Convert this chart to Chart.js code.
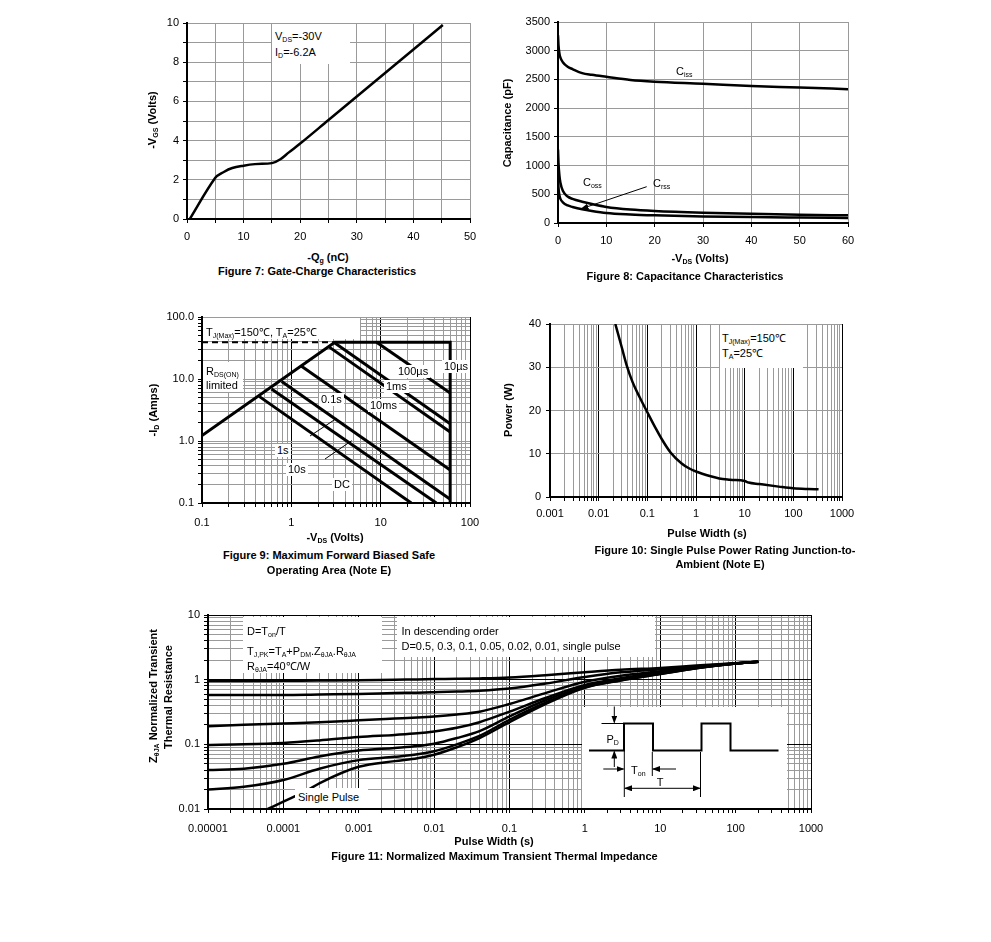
<!DOCTYPE html>
<html><head><meta charset="utf-8">
<script src="https://cdn.jsdelivr.net/npm/chart.js@4.4.0/dist/chart.umd.min.js"></script>
<style>
body{margin:0;background:#fff;width:991px;height:942px;position:relative;overflow:hidden;font-family:'Liberation Sans',Arial,sans-serif;color:#000}
canvas{position:absolute}
.t{position:absolute;font-size:11px;white-space:nowrap;line-height:13px}
.b{font-weight:bold}
.c{transform:translateX(-50%)}
.ry{transform:translate(-50%,-50%) rotate(-90deg)}
.box{position:absolute;background:#fff}
.lb{background:#fff;padding:0 2px}
sub{font-size:7px;vertical-align:-2px;line-height:0}
</style></head>
<body>
<div id="charts"></div>

<!-- Figure 7 texts -->
<div class="box" style="left:272px;top:24px;width:78px;height:40px"></div>
<div class="t" style="left:275px;top:29.5px">V<sub>DS</sub>=-30V</div>
<div class="t" style="left:275px;top:45.5px">I<sub>D</sub>=-6.2A</div>
<div class="t b ry" style="left:151.5px;top:120px">-V<sub>GS</sub> (Volts)</div>
<div class="t b c" style="left:328px;top:251px">-Q<sub>g</sub> (nC)</div>
<div class="t b c" style="left:317px;top:265px">Figure 7: Gate-Charge Characteristics</div>

<!-- Figure 8 texts -->
<div class="t" style="left:676px;top:64.5px">C<sub>iss</sub></div>
<div class="t" style="left:583px;top:176px">C<sub>oss</sub></div>
<div class="t" style="left:653px;top:176.5px">C<sub>rss</sub></div>
<div class="t b ry" style="left:506.5px;top:123px">Capacitance (pF)</div>
<div class="t b c" style="left:700px;top:252px">-V<sub>DS</sub> (Volts)</div>
<div class="t b c" style="left:685px;top:270px">Figure 8: Capacitance Characteristics</div>

<!-- Figure 9 texts -->
<div class="box" style="left:203px;top:318px;width:157px;height:21px"></div>
<div class="t" style="left:206px;top:325.5px">T<sub>J(Max)</sub>=150℃, T<sub>A</sub>=25℃</div>
<div class="box" style="left:203px;top:362px;width:40px;height:30px"></div>
<div class="t" style="left:206px;top:364.5px">R<sub>DS(ON)</sub></div>
<div class="t" style="left:206px;top:378.5px">limited</div>
<div class="t lb" style="left:396px;top:364.5px">100µs</div>
<div class="t lb" style="left:442px;top:360px">10µs</div>
<div class="t lb" style="left:384px;top:380px">1ms</div>
<div class="t lb" style="left:368px;top:399px">10ms</div>
<div class="t lb" style="left:319px;top:393px">0.1s</div>
<div class="t lb" style="left:275px;top:443.5px">1s</div>
<div class="t lb" style="left:286px;top:463px">10s</div>
<div class="t lb" style="left:332px;top:477.5px">DC</div>
<div class="t b ry" style="left:153px;top:410px">-I<sub>D</sub> (Amps)</div>
<div class="t b c" style="left:335px;top:531px">-V<sub>DS</sub> (Volts)</div>
<div class="t b c" style="left:329px;top:549px">Figure 9: Maximum Forward Biased Safe</div>
<div class="t b c" style="left:329px;top:564px">Operating Area (Note E)</div>

<!-- Figure 10 texts -->
<div class="box" style="left:720px;top:325px;width:83px;height:43px"></div>
<div class="t" style="left:722px;top:331.5px">T<sub>J(Max)</sub>=150℃</div>
<div class="t" style="left:722px;top:346.5px">T<sub>A</sub>=25℃</div>
<div class="t b ry" style="left:508px;top:410px">Power (W)</div>
<div class="t b c" style="left:707px;top:527px">Pulse Width (s)</div>
<div class="t b c" style="left:725px;top:543.5px">Figure 10: Single Pulse Power Rating Junction-to-</div>
<div class="t b c" style="left:720px;top:557.5px">Ambient (Note E)</div>

<!-- Figure 11 texts -->
<div class="box" style="left:243px;top:617px;width:139px;height:56px"></div>
<div class="t" style="left:247px;top:624.5px">D=T<sub>on</sub>/T</div>
<div class="t" style="left:247px;top:644.5px">T<sub>J,PK</sub>=T<sub>A</sub>+P<sub>DM</sub>.Z<sub>θJA</sub>.R<sub>θJA</sub></div>
<div class="t" style="left:247px;top:659.5px">R<sub>θJA</sub>=40℃/W</div>
<div class="box" style="left:397px;top:617px;width:258px;height:40px"></div>
<div class="t" style="left:401.5px;top:624.5px">In descending order</div>
<div class="t" style="left:401.5px;top:639.5px">D=0.5, 0.3, 0.1, 0.05, 0.02, 0.01, single pulse</div>
<div class="box" style="left:295px;top:788px;width:73px;height:20px"></div>
<div class="t" style="left:298px;top:791px">Single Pulse</div>
<div class="t b ry" style="left:152.5px;top:696px">Z<sub>θJA</sub> Normalized Transient</div>
<div class="t b ry" style="left:167.5px;top:697px">Thermal Resistance</div>
<div class="t b c" style="left:494px;top:834.5px">Pulse Width (s)</div>
<div class="t b c" style="left:494.5px;top:849.5px">Figure 11: Normalized Maximum Transient Thermal Impedance</div>

<svg width="991" height="942" style="position:absolute;left:0;top:0">
<defs>
<marker id="ah" markerWidth="8" markerHeight="6" refX="7" refY="3" orient="auto" markerUnits="userSpaceOnUse"><path d="M0,0 L8,3 L0,6 Z" fill="#000"/></marker>
</defs>
<!-- fig 8 arrow -->
<line x1="646.7" y1="186.7" x2="581.5" y2="208.7" stroke="#000" stroke-width="1" marker-end="url(#ah)"/>
<!-- fig 9 pointer lines -->
<line x1="310" y1="436" x2="336.7" y2="418.3" stroke="#000" stroke-width="1"/>
<line x1="325" y1="459" x2="351.7" y2="440.7" stroke="#000" stroke-width="1"/>
<!-- fig 11 inset -->
<rect x="582" y="707" width="205" height="101" fill="#fff"/>
<polyline points="589,750.5 624,750.5 624,723.5 653,723.5 653,750.5 701.5,750.5 701.5,723.5 730.5,723.5 730.5,750.5 778.5,750.5" fill="none" stroke="#000" stroke-width="2"/>
<line x1="624.3" y1="750" x2="624.3" y2="797" stroke="#000" stroke-width="1"/>
<line x1="652.3" y1="752" x2="652.3" y2="776" stroke="#000" stroke-width="1"/>
<line x1="700.5" y1="752" x2="700.5" y2="797" stroke="#000" stroke-width="1"/>
<line x1="601.5" y1="723.5" x2="624" y2="723.5" stroke="#000" stroke-width="1"/>
<line x1="614.3" y1="706.5" x2="614.3" y2="722.5" stroke="#000" stroke-width="1" marker-end="url(#ah)"/>
<line x1="614.3" y1="767" x2="614.3" y2="751.5" stroke="#000" stroke-width="1" marker-end="url(#ah)"/>
<line x1="603.3" y1="769" x2="623.5" y2="769" stroke="#000" stroke-width="1" marker-end="url(#ah)"/>
<line x1="676" y1="769" x2="653" y2="769" stroke="#000" stroke-width="1" marker-end="url(#ah)"/>
<line x1="660" y1="788.3" x2="625" y2="788.3" stroke="#000" stroke-width="1" marker-end="url(#ah)"/>
<line x1="660" y1="788.3" x2="699.8" y2="788.3" stroke="#000" stroke-width="1" marker-end="url(#ah)"/>
</svg>
<div class="t c" style="left:612.7px;top:733px">P<sub>D</sub></div>
<div class="t c" style="left:638.3px;top:764px">T<sub>on</sub></div>
<div class="t c" style="left:660px;top:776px">T</div>

<script>
// ---------- DATA ----------
// Figure 7: gate charge
const fig7Qg  = [0.5, 5, 6.5, 8, 10, 12, 15, 16.5, 18, 20, 25, 30, 35, 40, 45.2];
const fig7Vgs = [0, 2.1, 2.4, 2.6, 2.72, 2.8, 2.85, 3.05, 3.4, 3.85, 5.05, 6.25, 7.45, 8.65, 9.9];
const fig7XLabels = ['0','10','20','30','40','50'];
const fig7YLabels = ['0','2','4','6','8','10'];

// Figure 8: capacitance
const fig8Vds  = [0, 0.1, 0.3, 0.5, 1, 2, 3, 5, 7, 10, 15, 20, 30, 40, 50, 60];
const fig8Ciss = [3270, 3100, 2950, 2880, 2800, 2720, 2680, 2610, 2580, 2545, 2490, 2460, 2425, 2385, 2360, 2330];
const fig8Coss = [1280, 1050, 820, 700, 560, 460, 420, 370, 330, 280, 235, 210, 180, 160, 145, 133];
const fig8Crss = [850, 620, 480, 420, 360, 305, 280, 240, 210, 175, 150, 135, 115, 103, 95, 88];
const fig8XLabels = ['0','10','20','30','40','50','60'];
const fig8YLabels = ['0','500','1000','1500','2000','2500','3000','3500'];

// Figure 9: SOA
const fig9LimitV = [0.1, 3.07, 60, 60];
const fig9LimitI = [1.22, 39, 39, 0.1];
const fig9DashV  = [0.1, 3.07];
const fig9DashI  = [39, 39];
const fig9Names  = ['10µs','100µs','1ms','10ms','1s','10s','DC'];
const fig9StartV = [9, 3.07, 2.59, 1.3, 0.78, 0.6, 0.44];
const fig9StartI = [39, 38, 33.6, 16, 9.1, 6.9, 5.2];
const fig9EndV   = [60, 60, 60, 60, 60, 42, 22];
const fig9EndI   = [5.95, 1.9, 1.4, 0.34, 0.115, 0.1, 0.1];
const fig9XLabels = ['0.1','1','10','100'];
const fig9YLabels = ['0.1','1.0','10.0','100.0'];

// Figure 10: single pulse power
const fig10T = [0.022, 0.03, 0.0375, 0.05, 0.07, 0.1, 0.15, 0.2, 0.3, 0.5, 0.7, 1, 2, 3, 5, 10, 12, 20, 50, 100, 200, 330];
const fig10P = [40, 34.5, 30.5, 26.5, 23, 19.6, 15.8, 13.3, 10.3, 7.8, 6.7, 5.9, 4.8, 4.3, 4.0, 3.7, 3.35, 3.0, 2.4, 2.0, 1.85, 1.8];
const fig10XLabels = ['0.001','0.01','0.1','1','10','100','1000'];
const fig10YLabels = ['0','10','20','30','40'];

// Figure 11: transient thermal impedance
const fig11T     = [1e-5, 3e-5, 1e-4, 3e-4, 1e-3, 3e-3, 6e-3, 1e-2, 2e-2, 4e-2, 0.1, 0.3, 1, 3, 10, 30, 100, 200];
const fig11D050  = [0.95, 0.95, 0.96, 0.97, 0.98, 1.0, 1.01, 1.02, 1.03, 1.045, 1.08, 1.17, 1.3, 1.42, 1.52, 1.65, 1.8, 1.9];
const fig11D030  = [0.58, 0.58, 0.58, 0.59, 0.6, 0.62, 0.63, 0.64, 0.655, 0.675, 0.73, 0.87, 1.1, 1.3, 1.45, 1.6, 1.8, 1.9];
const fig11D010  = [0.19, 0.2, 0.21, 0.22, 0.235, 0.25, 0.26, 0.27, 0.29, 0.32, 0.42, 0.62, 0.93, 1.15, 1.35, 1.55, 1.78, 1.9];
const fig11D005  = [0.098, 0.1, 0.105, 0.115, 0.13, 0.14, 0.148, 0.158, 0.18, 0.22, 0.32, 0.52, 0.83, 1.05, 1.3, 1.53, 1.78, 1.9];
const fig11D002  = [0.04, 0.042, 0.05, 0.065, 0.08, 0.088, 0.094, 0.102, 0.125, 0.16, 0.27, 0.48, 0.78, 1.0, 1.25, 1.52, 1.78, 1.9];
const fig11D001  = [0.02, 0.022, 0.028, 0.042, 0.057, 0.064, 0.07, 0.078, 0.1, 0.135, 0.24, 0.44, 0.76, 0.98, 1.23, 1.5, 1.78, 1.9];
const fig11SingleT = [6.2e-5, 1e-4, 2e-4, 3e-4, 1e-3, 3e-3, 6e-3, 1e-2, 2e-2, 4e-2, 0.1, 0.3, 1, 3, 10, 30, 100, 200];
const fig11Single  = [0.01, 0.013, 0.019, 0.025, 0.045, 0.055, 0.061, 0.069, 0.09, 0.125, 0.22, 0.42, 0.75, 0.97, 1.22, 1.5, 1.78, 1.9];
const fig11XLabels = ['0.00001','0.0001','0.001','0.01','0.1','1','10','100','1000'];
const fig11YLabels = ['0.01','0.1','1','10'];

// ---------- HELPERS ----------
Chart.defaults.font.family = "'Liberation Sans', Arial, sans-serif";
Chart.defaults.font.size = 11;
Chart.defaults.color = '#000';
const GRID = '#9a9a9a';

function isDecade(v){ const e = Math.log10(v); return Math.abs(e - Math.round(e)) < 1e-6; }
function logAxis(min, max, labels, major, padding){
  const lo = Math.round(Math.log10(min)), hi = Math.round(Math.log10(max));
  return {
    type:'logarithmic', min, max,
    afterBuildTicks: s => {
      const t = [];
      for (let e = lo; e < hi; e++) for (let k = 1; k < 10; k++) t.push({value: +(k * Math.pow(10, e)).toPrecision(6)});
      t.push({value: +Math.pow(10, hi).toPrecision(6)});
      s.ticks = t;
    },
    ticks:{autoSkip:false, maxRotation:0, minRotation:0, padding,
      callback: v => isDecade(v) ? labels[Math.round(Math.log10(v)) - lo] : ''},
    grid:{color: c => (c.tick && isDecade(c.tick.value)) ? major : GRID, tickLength:4, tickColor:'#000'},
    border:{color:'#000', width:2}
  };
}
function linAxis(min, max, step, labels, padding){
  return {
    type:'linear', min, max,
    ticks:{stepSize:step, autoSkip:false, maxRotation:0, minRotation:0, padding,
      callback: v => labels.includes(String(v)) ? String(v) : ''},
    grid:{color:GRID, tickLength:4, tickColor:'#000'},
    border:{color:'#000', width:2}
  };
}
function series(xs, ys, extra){
  return Object.assign({data: xs.map((x, i) => ({x, y: ys[i]})), borderColor:'#000', backgroundColor:'#000',
    borderWidth:2.5, fill:false, pointRadius:0, cubicInterpolationMode:'monotone'}, extra || {});
}
function makeChart(plot, datasets, xAxis, yAxis){
  const YW = 60, XH = 32, PT = 12, PR = 30;
  const cv = document.createElement('canvas');
  const w = plot.r - plot.l + YW + PR, h = plot.b - plot.t + PT + XH;
  cv.width = w; cv.height = h;
  cv.style.left = (plot.l - YW) + 'px'; cv.style.top = (plot.t - PT) + 'px';
  cv.style.width = w + 'px'; cv.style.height = h + 'px';
  document.getElementById('charts').appendChild(cv);
  xAxis.afterFit = s => { s.height = XH; };
  yAxis.afterFit = s => { s.width = YW; };
  return new Chart(cv, {type:'line', data:{datasets}, options:{
    responsive:false, animation:false, devicePixelRatio:1,
    layout:{padding:{top:PT, right:PR, left:0, bottom:0}},
    plugins:{legend:{display:false}, tooltip:{enabled:false}},
    elements:{point:{radius:0}},
    scales:{x:xAxis, y:yAxis}}});
}

// ---------- CHARTS ----------
makeChart({l:187, t:23, r:470, b:219},
  [series(fig7Qg, fig7Vgs, {cubicInterpolationMode:'default', tension:0.35})],
  linAxis(0, 50, 5, fig7XLabels, 7), linAxis(0, 10, 1, fig7YLabels, 4));

makeChart({l:558, t:22, r:848, b:223},
  [series(fig8Vds, fig8Ciss), series(fig8Vds, fig8Coss), series(fig8Vds, fig8Crss)],
  linAxis(0, 60, 10, fig8XLabels, 7), linAxis(0, 3500, 500, fig8YLabels, 4));

const fig9Sets = [
  series(fig9LimitV, fig9LimitI, {cubicInterpolationMode:'default', tension:0, borderWidth:3}),
  series(fig9DashV, fig9DashI, {cubicInterpolationMode:'default', tension:0, borderWidth:2, borderDash:[6,4]})
];
fig9Names.forEach((n, i) => fig9Sets.push(series([fig9StartV[i], fig9EndV[i]], [fig9StartI[i], fig9EndI[i]],
  {label:n, cubicInterpolationMode:'default', tension:0, borderWidth:3})));
makeChart({l:202, t:317, r:470, b:503}, fig9Sets,
  logAxis(0.1, 100, fig9XLabels, '#000', 9), logAxis(0.1, 100, fig9YLabels, GRID, 4));

makeChart({l:550, t:324, r:842, b:497},
  [series(fig10T, fig10P)],
  logAxis(0.001, 1000, fig10XLabels, '#000', 6), linAxis(0, 40, 10, fig10YLabels, 5));

makeChart({l:208, t:615, r:811, b:809},
  [series(fig11T, fig11D050), series(fig11T, fig11D030), series(fig11T, fig11D010), series(fig11T, fig11D005),
   series(fig11T, fig11D002), series(fig11T, fig11D001), series(fig11SingleT, fig11Single)],
  logAxis(1e-5, 1000, fig11XLabels, '#000', 9), logAxis(0.01, 10, fig11YLabels, '#000', 4));
</script>
</body></html>
